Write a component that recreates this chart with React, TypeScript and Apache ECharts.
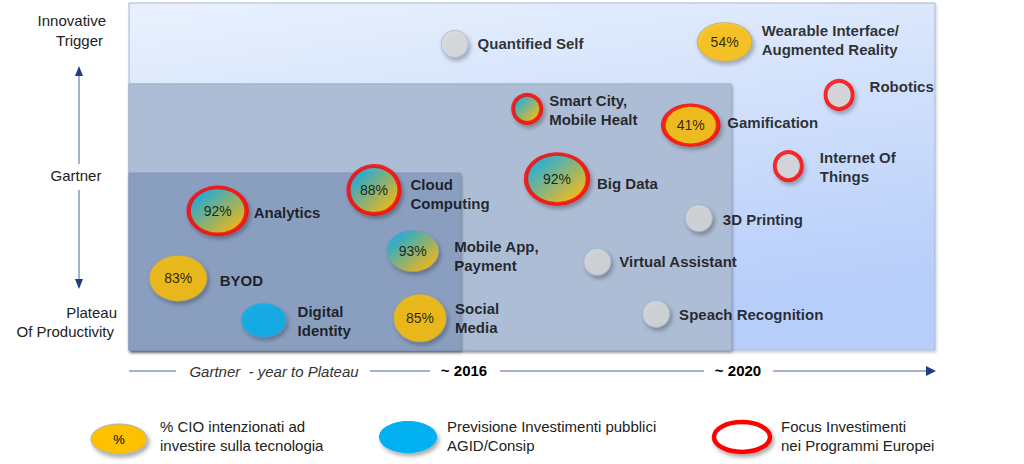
import React, { useEffect, useRef } from "react";
import * as echarts from "echarts";

// ---- data ----
const techNames = [
  "Quantified Self",
  "Wearable Interface/\nAugmented Reality",
  "Smart City,\nMobile Healt",
  "Gamification",
  "Robotics",
  "Internet Of\nThings",
  "Big Data",
  "3D Printing",
  "Cloud\nComputing",
  "Analytics",
  "Mobile App,\nPayment",
  "Virtual Assistant",
  "BYOD",
  "Digital\nIdentity",
  "Social\nMedia",
  "Speach Recognition",
];
// x: position towards plateau (0..100), y: hype position (0 plateau .. 100 trigger)
const maturity = [40.4, 73.9, 49.4, 69.7, 88.1, 81.8, 53.1, 70.7, 30.4, 11.0, 35.2, 58.1, 6.1, 16.7, 36.1, 65.4];
const expectation = [88.2, 88.8, 69.5, 64.8, 73.5, 53.0, 49.3, 38.0, 46.1, 40.1, 28.5, 25.4, 20.7, 8.6, 9.2, 10.4];
const cioPct: (number | null)[] = [null, 54, null, 41, null, null, 92, null, 88, 92, 93, null, 83, null, 85, null];
// fill kind: cio = % CIO, public = public investment, both = gradient, none = grey
const fillKind = ["none", "cio", "both", "cio", "none", "none", "both", "none", "both", "both", "both", "none", "cio", "public", "cio", "none"];
const euFocus = [false, false, true, true, true, true, true, false, true, true, false, false, false, false, false, false];

// zone boundaries (x, y upper edges)
const zoneX = [41.1, 74.7, 100];
const zoneY = [51.0, 76.7, 100];
const yearLabels = ["~ 2016", "~ 2020"];
const sideLabels = ["Innovative", "Trigger", "Gartner", "Plateau", "Of Productivity"];
const axisTitle = "Gartner  - year to Plateau";
const legendTexts = [
  "% CIO intenzionati ad\ninvestire sulla tecnologia",
  "Previsione Investimenti pubblici\nAGID/Consip",
  "Focus Investimenti\nnei Programmi Europei",
];

// ---- styles ----
const bubbleSize = [
  [27, 27], [55, 39], [28, 28], [55, 40], [27, 28], [27, 28], [62, 50], [27, 27],
  [51, 48], [58, 47], [52, 41], [27, 27], [58, 46], [45, 34], [53, 48], [27, 27],
];
const labelGap = [9, 9, 6, 7, 15, 16, 7, 10, 9, 5, 15, 8, 12, 11, 8, 9];
const labelDy = [0, -2, 1, -3, -8, 1, 5, 1, 4, 2, 5, 0, 2, 1, 0, 1];

const FONT = '"Liberation Sans", Arial, sans-serif';
const YELLOW = "#ffc000";
const BLUE = "#00b0f0";
const GREY = "#d9d9d9";
const RED = "#ff0000";

function fillFor(kind: string) {
  if (kind === "cio") return YELLOW;
  if (kind === "public") return BLUE;
  if (kind === "both")
    return new echarts.graphic.LinearGradient(0, 0, 1, 1, [
      { offset: 0.1, color: BLUE },
      { offset: 0.85, color: YELLOW },
    ]);
  return GREY;
}

export default function App() {
  const ref = useRef<HTMLDivElement>(null);
  useEffect(() => {
    if (!ref.current) return;
    const chart = echarts.init(ref.current, undefined, { renderer: "svg" });

    const bubbles = techNames.map((n, i) => ({
      name: n,
      value: [maturity[i], expectation[i]],
      symbolSize: bubbleSize[i],
      itemStyle: {
        color: fillFor(fillKind[i]),
        borderColor: euFocus[i] ? RED : fillKind[i] === "none" ? "#9fb3d3" : "rgba(120,140,180,0.5)",
        borderWidth: euFocus[i] ? 4 : 1,
        shadowBlur: 4,
        shadowOffsetX: 2,
        shadowOffsetY: 3,
        shadowColor: "rgba(0,0,0,0.35)",
      },
      label: {
        show: cioPct[i] != null,
        formatter: cioPct[i] != null ? `${cioPct[i]}%` : "",
      },
    }));

    const nameLabels = techNames.map((n, i) => {
      const border = euFocus[i] ? 2 : 0.5;
      return {
        name: n,
        value: [maturity[i], expectation[i]],
        symbolSize: bubbleSize[i],
        label: { distance: labelGap[i] + border, offset: [0, labelDy[i]] },
      };
    });

    const areaShadow = { shadowBlur: 3, shadowOffsetX: 1, shadowOffsetY: 2, shadowColor: "rgba(0,0,0,0.35)" };

    const lineColor = "#4a64a0";
    const arrowColor = "#1f3b8c";
    const txt = (text: string, x: number, y: number, align: string, extra: any = {}) => ({
      type: "text",
      x,
      y,
      style: {
        text,
        fill: "#222",
        fontSize: 15,
        fontFamily: FONT,
        align,
        verticalAlign: "middle",
        textAlign: align,
        textVerticalAlign: "middle",
        ...extra,
      },
    });
    const ln = (x1: number, y1: number, x2: number, y2: number) => ({
      type: "line",
      shape: { x1, y1, x2, y2 },
      style: { stroke: lineColor, lineWidth: 1 },
    });
    const legendShadow = { shadowBlur: 4, shadowOffsetX: 2, shadowOffsetY: 3, shadowColor: "rgba(0,0,0,0.35)" };

    chart.setOption({
      animation: false,
      grid: { left: 129, right: 89, top: 3, bottom: 114 },
      xAxis: { type: "value", min: 0, max: 100, show: false },
      yAxis: { type: "value", min: 0, max: 100, show: false },
      series: [
        {
          type: "scatter",
          data: [],
          z: 1,
          silent: true,
          markArea: {
            silent: true,
            data: [
              [
                {
                  xAxis: 0,
                  yAxis: 0,
                  itemStyle: {
                    color: new echarts.graphic.LinearGradient(0, 0, 0.3, 1, [
                      { offset: 0, color: "#e9f1fd" },
                      { offset: 1, color: "#b7cefa" },
                    ]),
                    borderColor: "#a3b7d8",
                    borderWidth: 1,
                    shadowBlur: 3,
                    shadowOffsetX: 1,
                    shadowOffsetY: 2,
                    shadowColor: "rgba(0,0,0,0.2)",
                  },
                },
                { xAxis: zoneX[2], yAxis: zoneY[2] },
              ],
              [
                {
                  xAxis: 0,
                  yAxis: 0,
                  itemStyle: { color: "#adbdd5", borderColor: "#9fb2cf", borderWidth: 1, ...areaShadow },
                },
                { xAxis: zoneX[1], yAxis: zoneY[1] },
              ],
              [
                {
                  xAxis: 0,
                  yAxis: 0,
                  itemStyle: { color: "#8a9fbf", borderColor: "#8197b9", borderWidth: 1, ...areaShadow },
                },
                { xAxis: zoneX[0], yAxis: zoneY[0] },
              ],
            ],
          },
        },
        {
          type: "scatter",
          z: 3,
          symbol: "circle",
          data: bubbles,
          label: {
            position: "inside",
            color: "#000",
            fontSize: 14,
            fontFamily: FONT,
          },
        },
        {
          type: "scatter",
          z: 4,
          silent: true,
          symbol: "circle",
          itemStyle: { color: "rgba(0,0,0,0)" },
          data: nameLabels,
          label: {
            show: true,
            position: "right",
            formatter: "{b}",
            color: "#000",
            fontSize: 15,
            fontWeight: "bold",
            fontFamily: FONT,
            lineHeight: 19,
          },
        },
      ],
      graphic: [
        // left side
        txt(sideLabels[0], 106, 20, "right"),
        txt(sideLabels[1], 103, 40, "right"),
        ln(79, 75, 79, 164),
        { type: "polygon", shape: { points: [[79, 66], [75, 76], [83, 76]] }, style: { fill: arrowColor } },
        txt(sideLabels[2], 76, 175, "center"),
        ln(79, 190, 79, 280),
        { type: "polygon", shape: { points: [[79, 289], [75, 279], [83, 279]] }, style: { fill: arrowColor } },
        txt(sideLabels[3], 117, 312, "right"),
        txt(sideLabels[4], 114, 331, "right"),
        // bottom axis
        ln(129, 371, 176, 371),
        txt(axisTitle, 274, 371, "center", { fontStyle: "italic", fill: "#333", fontSize: 15 }),
        ln(370, 371, 430, 371),
        txt(yearLabels[0], 464, 370, "center", { fontWeight: "bold", fontSize: 15, fill: "#000" }),
        ln(500, 371, 704, 371),
        txt(yearLabels[1], 738, 370, "center", { fontWeight: "bold", fontSize: 15, fill: "#000" }),
        ln(773, 371, 927, 371),
        { type: "polygon", shape: { points: [[936, 371], [926, 366], [926, 376]] }, style: { fill: arrowColor } },
        // legend
        {
          type: "ellipse",
          shape: { cx: 119, cy: 439, rx: 28, ry: 15 },
          style: { fill: YELLOW, stroke: "#9fb3d3", lineWidth: 1, ...legendShadow },
        },
        txt("%", 119, 439, "center", { fontSize: 13, fill: "#000" }),
        txt(legendTexts[0], 160, 436, "left", { lineHeight: 19, fill: "#222" }),
        { type: "ellipse", shape: { cx: 408, cy: 437, rx: 29, ry: 16 }, style: { fill: BLUE, ...legendShadow } },
        txt(legendTexts[1], 447, 436, "left", { lineHeight: 19, fill: "#222" }),
        {
          type: "ellipse",
          shape: { cx: 742, cy: 437, rx: 28, ry: 15 },
          style: { fill: "#fff", stroke: RED, lineWidth: 4.5, ...legendShadow },
        },
        txt(legendTexts[2], 781, 436, "left", { lineHeight: 19, fill: "#222" }),
      ],
    });
    return () => chart.dispose();
  }, []);
  return (
    <div
      ref={ref}
      style={{ position: "absolute", left: 0, top: 0, width: 1024, height: 464, background: "#fff" }}
    />
  );
}
